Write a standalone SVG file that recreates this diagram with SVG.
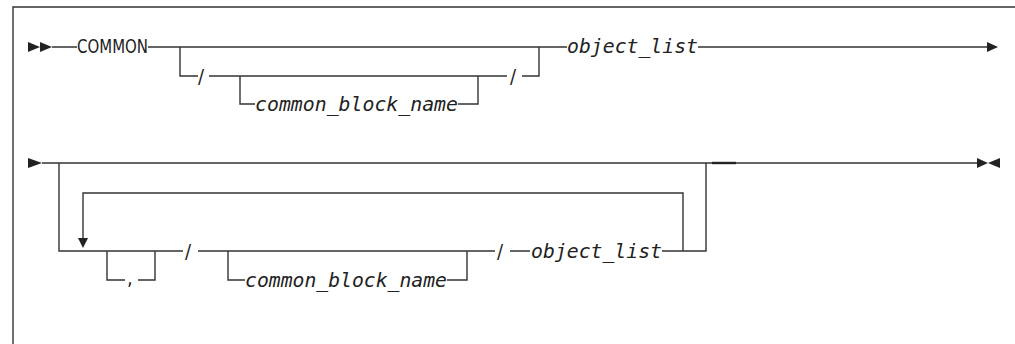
<svg xmlns="http://www.w3.org/2000/svg" width="1015" height="344" viewBox="0 0 1015 344">
<style>
.ln{fill:none;stroke:#333;stroke-width:1.4}
.ar{fill:#222}
.kw{font-family:"DejaVu Sans Condensed","DejaVu Sans",sans-serif;font-size:20px;fill:#222}
.var{font-family:"DejaVu Sans Mono",monospace;font-style:italic;font-size:20px;fill:#222}
</style>
<rect width="1015" height="344" fill="#fff"/>
<g id="frame"><path class="ln" d="M13 344V7H1015"/></g>
<g id="connectors">
<path class="ln" d="M52 47H77M148 47H567M698 47H987"/>
<path class="ln" d="M180 47V76H198M209 76H507M522 76H539V47"/>
<path class="ln" d="M240 76V104H255M458 104H478V76"/>
<path class="ln" d="M42 163H977"/>
<path d="M712 163H736" stroke="#222" stroke-width="2.4"/>
<path class="ln" d="M59 163V251H183M198 251H495M510 251H530M662 251H706V163"/>
<path class="ln" d="M683 251V193H83V239"/>
<path class="ln" d="M107 251V280H125M138 280H155V251"/>
<path class="ln" d="M228 251V280H245M447 280H467V251"/>
</g>
<g id="arrows">
<path class="ar" d="M28 42L40 47L28 52ZM40 42L52 47L40 52Z"/>
<path class="ar" d="M987 42L998 47L987 52Z"/>
<path class="ar" d="M28 158L42 163L28 168Z"/>
<path class="ar" d="M977 158L988 163L977 168ZM1000 158L988 163L1000 168Z"/>
<path class="ar" d="M78 238L88 238L83 248Z"/>
</g>
<g id="n-common"><text class="kw" x="77" y="53" textLength="71" lengthAdjust="spacingAndGlyphs">COMMON</text></g>
<g id="n-slash1"><text class="kw" x="198" y="83">/</text></g>
<g id="n-cbn1"><text class="var" x="255" y="111" textLength="203" lengthAdjust="spacingAndGlyphs">common_block_name</text></g>
<g id="n-slash2"><text class="kw" x="510" y="83">/</text></g>
<g id="n-objlist1"><text class="var" x="567" y="53" textLength="131" lengthAdjust="spacingAndGlyphs">object_list</text></g>
<g id="n-comma"><text class="kw" x="127" y="285">,</text></g>
<g id="n-slash3"><text class="kw" x="185" y="258">/</text></g>
<g id="n-cbn2"><text class="var" x="245" y="287" textLength="202" lengthAdjust="spacingAndGlyphs">common_block_name</text></g>
<g id="n-slash4"><text class="kw" x="497" y="258">/</text></g>
<g id="n-objlist2"><text class="var" x="531" y="258" textLength="131" lengthAdjust="spacingAndGlyphs">object_list</text></g>
</svg>
